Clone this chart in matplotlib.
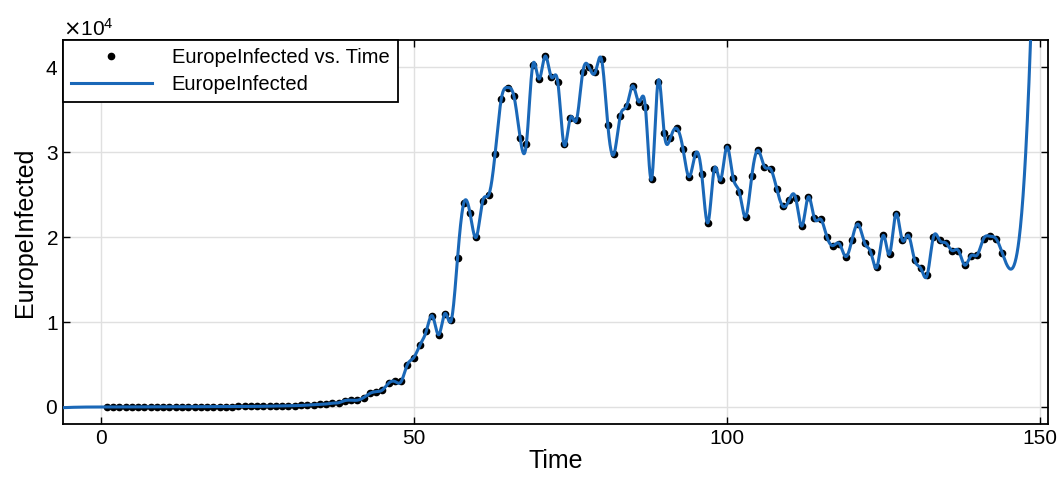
import numpy as np
import matplotlib
matplotlib.use("Agg")
from matplotlib import pyplot as plt

plt.rcParams['font.family'] = ['Liberation Sans', 'DejaVu Sans']

# day index and infected values
time = np.arange(1, 145)
early = [0, 0, 0, 0, 10, 10, 10, 20, 20, 20,
         20, 30, 30, 30, 30, 40, 40, 40, 50, 50,
         50, 60, 60, 70, 70, 80, 90, 100, 110, 120,
         150, 180, 220, 260, 300]
later = [350, 450, 500, 750, 800, 800, 1100, 1600, 1800, 2000,
         2800, 3000, 3000, 5000, 5800, 7300, 8900, 10700, 8500, 11000,
         10200, 17500, 24000, 22800, 20000, 24200, 25000, 29800, 36300, 37600,
         36600, 31700, 31000, 40200, 38600, 41300, 38800, 38300, 30900, 34000,
         33800, 39400, 40000, 39400, 40900, 33200, 29800, 34300, 35400, 37800,
         35900, 35300, 26800, 38200, 32300, 31700, 32800, 30400, 27100, 29800,
         27400, 21700, 28000, 26700, 30600, 27000, 25300, 22400, 27200, 30200,
         28300, 28000, 25600, 23600, 24400, 24600, 21300, 24700, 22200, 22100,
         20000, 19000, 19200, 17700, 19700, 21500, 19300, 18200, 16500, 20200,
         18000, 22700, 19700, 20200, 17300, 16300, 15500, 20000, 19600, 19300,
         18400, 18400, 16700, 17800, 17900, 19800, 20100, 19800, 18100]
infected = np.array(early + later, dtype=float)


def natural_spline(x, y, xq):
  # natural cubic spline, end pieces extended outside the data
  n = len(x)
  h = np.diff(x)
  A = np.zeros((n, n))
  r = np.zeros(n)
  A[0, 0] = 1
  A[-1, -1] = 1
  for i in range(1, n - 1):
    A[i, i - 1] = h[i - 1]
    A[i, i] = 2 * (h[i - 1] + h[i])
    A[i, i + 1] = h[i]
    r[i] = 6 * ((y[i + 1] - y[i]) / h[i] - (y[i] - y[i - 1]) / h[i - 1])
  M = np.linalg.solve(A, r)
  k = np.clip(np.searchsorted(x, xq) - 1, 0, n - 2)
  hk = h[k]
  t0 = x[k + 1] - xq
  t1 = xq - x[k]
  return (M[k] * t0 ** 3 / (6 * hk) + M[k + 1] * t1 ** 3 / (6 * hk)
          + (y[k] / hk - M[k] * hk / 6) * t0
          + (y[k + 1] / hk - M[k + 1] * hk / 6) * t1)


xfit = np.linspace(-6, 152, 3000)
yfit = natural_spline(time.astype(float), infected, xfit)

fig = plt.figure(figsize=(10.63, 4.93), dpi=100)
ax = fig.add_axes([0.0593, 0.14, 0.9266, 0.779])

ax.plot(time, infected, '.', color='k', markersize=9, label='EuropeInfected vs. Time', zorder=2)
ax.plot(xfit, yfit, color='#1a68b8', linewidth=2.2, label='EuropeInfected', zorder=3)

ax.set_xlim(-6, 151.3)
ax.set_ylim(-2000, 43200)
ax.set_xticks([0, 50, 100, 150])
ax.set_yticks([0, 10000, 20000, 30000, 40000])
ax.ticklabel_format(style='sci', axis='y', scilimits=(0, 0), useMathText=True)
ax.yaxis.get_offset_text().set_fontsize(15)
ax.tick_params(direction='in', top=True, right=True, labelsize=15, length=5, width=1)
ax.grid(True, color='#e0e0e0', linewidth=1)
ax.set_axisbelow(True)
for s in ax.spines.values():
  s.set_linewidth(1.3)

ax.set_xlabel("Time", fontsize=18, labelpad=1)
ax.set_ylabel("EuropeInfected", fontsize=18, labelpad=6)

leg = ax.legend(loc='upper left', fontsize=14.5, fancybox=False, framealpha=1,
                edgecolor='k', borderaxespad=0, handlelength=4, borderpad=0.4,
                labelspacing=0.4, handletextpad=1.0)
leg.get_frame().set_linewidth(1.3)

plt.savefig("out.png", dpi=100)
plt.close()
